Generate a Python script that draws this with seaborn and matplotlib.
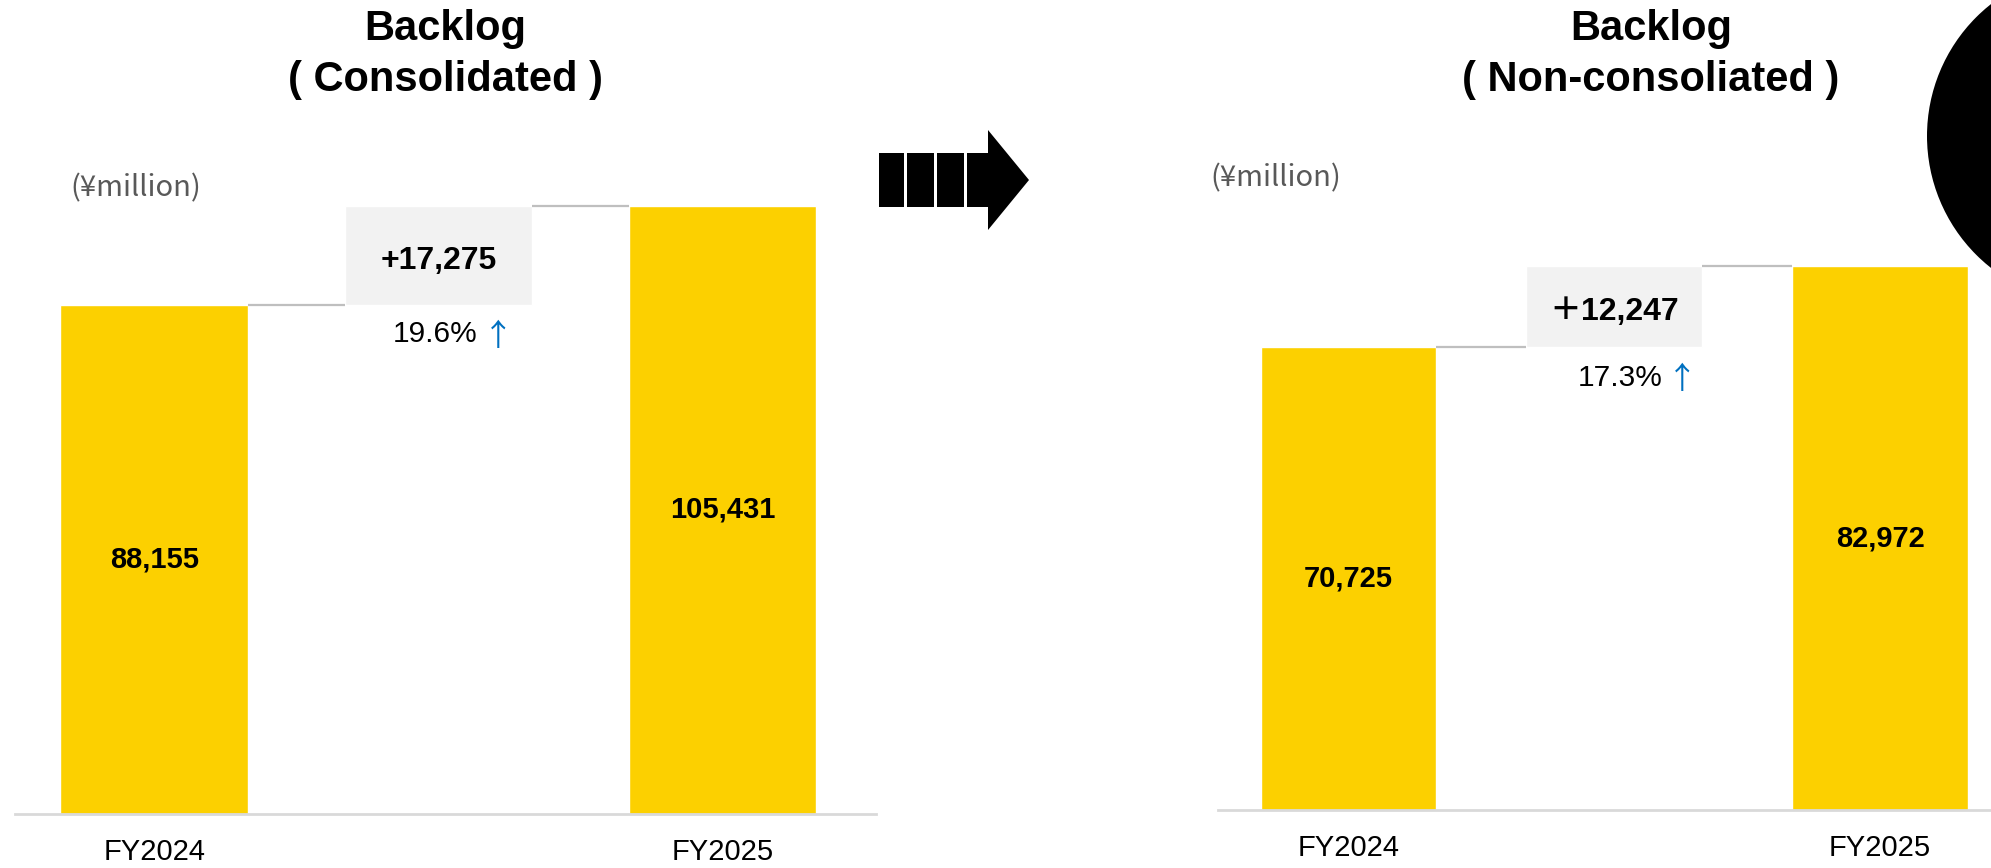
import matplotlib
matplotlib.use("Agg")
import matplotlib.pyplot as plt
import seaborn as sns
import pandas as pd
from matplotlib.patches import Rectangle, Polygon, Ellipse

# ---------------- data ----------------
categories = ["FY2024", "FY2025"]
consolidated = [88155, 105431]
non_consolidated = [70725, 82972]
change_labels = ["+17,275", "＋12,247"]
pct_labels = ["19.6%", "17.3%"]
title_lines = [["Backlog", "( Consolidated )"], ["Backlog", "( Non-consoliated )"]]
unit_label = "(¥million)"

# ---------------- style ----------------
sns.set_theme(style="white")
plt.rcParams['font.family'] = ['Liberation Sans', 'Noto Sans CJK JP', 'DejaVu Sans']

YELLOW = "#FCD000"
BOX_GRAY = "#F2F2F2"
LINE_GRAY = "#BFBFBF"
BASE_GRAY = "#D9D9D9"
UNIT_GRAY = "#595959"
ARROW_BLUE = "#0070C0"

W, H = 1991, 868
fig = plt.figure(figsize=(W / 100, H / 100), dpi=100)


def px(x0, ytop, w, h):
    return [x0 / W, 1 - (ytop + h) / H, w / W, h / H]


def P(v):  # pixels -> points
    return v * 72 / 100


def draw_panel(ax, values, change_label, pct_label, xlim, ymax, pct_dx, arrow_dx, pct_dy):
    order = [categories[0], " ", categories[1]]
    df = pd.DataFrame({"cat": categories, "value": values})
    sns.barplot(data=df, x="cat", y="value", order=order, color=YELLOW,
                saturation=1, width=0.66, errorbar=None, ax=ax)
    bw = 0.66
    v1, v2 = values
    # waterfall change box
    ax.bar(1, v2 - v1, bottom=v1, width=bw, color=BOX_GRAY, zorder=1)
    # connectors
    ax.hlines(v1, 0 + bw / 2, 1 - bw / 2, color=LINE_GRAY, lw=1.6)
    ax.hlines(v2, 1 + bw / 2, 2 - bw / 2, color=LINE_GRAY, lw=1.6)
    # value labels
    for i, v in zip([0, 2], values):
        ax.text(i, v / 2, f"{v:,}", ha="center", va="center",
                fontsize=21, fontweight="bold", color="black")
    ax.annotate(change_label, xy=(1, (v1 + v2) / 2), xytext=(0, P(-6)),
                textcoords="offset points", ha="center", va="center",
                fontsize=23, fontweight="bold", color="black")
    ax.annotate(pct_label, xy=(1, v1), xytext=(P(pct_dx), P(pct_dy)),
                textcoords="offset points", ha="right", va="center",
                fontsize=21.5, color="black")
    ax.annotate("↑", xy=(1, v1), xytext=(P(arrow_dx - 6), P(pct_dy - 3)),
                textcoords="offset points", ha="left", va="center",
                fontsize=22, color=ARROW_BLUE, family=['Noto Sans CJK JP'])
    ax.set_xlim(*xlim)
    ax.set_ylim(0, ymax)
    ax.set_xlabel("")
    ax.set_ylabel("")
    ax.set_yticks([])
    ax.tick_params(axis="x", length=0, pad=17, labelsize=21, labelcolor="black")
    for s in ["top", "left", "right"]:
        ax.spines[s].set_visible(False)
    ax.spines["bottom"].set_color(BASE_GRAY)
    ax.spines["bottom"].set_linewidth(2)
    ax.set_facecolor("none")


ax1 = fig.add_axes(px(15, 100, 861, 714))
draw_panel(ax1, consolidated, change_labels[0], pct_labels[0],
           (-0.49, 2.54), 714 * 173.3, 39, 50, -29)

ax2 = fig.add_axes(px(1218, 100, 773, 710))
draw_panel(ax2, non_consolidated, change_labels[1], pct_labels[1],
           (-0.49, 2.417), 710 * 152.6, 48, 59, -31)

# titles
for (cx, lines) in [(445, title_lines[0]), (1651, title_lines[1])]:
    fig.text(cx / W, 1 - 29 / H, lines[0], ha="center", va="center",
             fontsize=30, fontweight="bold", color="black")
    fig.text(cx / W, 1 - 80 / H, lines[1], ha="center", va="center",
             fontsize=30, fontweight="bold", color="black")

# unit labels
for (x0, yc) in [(70, 188), (1210, 178)]:
    fig.text(x0 / W, 1 - yc / H, unit_label, ha="left", va="center",
             fontsize=21, color=UNIT_GRAY, family=['Noto Sans CJK JP'])

# block arrow between the panels (decoration)
for x0, x1 in [(879, 904), (907, 934), (937, 964), (967, 989)]:
    fig.add_artist(Rectangle((x0 / W, 1 - 207 / H), (x1 - x0) / W, 54 / H,
                             transform=fig.transFigure, color="black", lw=0))
fig.add_artist(Polygon([(988 / W, 1 - 130 / H), (1029 / W, 1 - 180 / H),
                        (988 / W, 1 - 230 / H)], closed=True,
                       transform=fig.transFigure, color="black", lw=0))

# black circle cut off at top-right (decoration)
fig.add_artist(Ellipse((2095 / W, 1 - 136 / H), 2 * 168 / W, 2 * 168 / H,
                       transform=fig.transFigure, color="black", lw=0))

fig.savefig("out.png", dpi=100)
